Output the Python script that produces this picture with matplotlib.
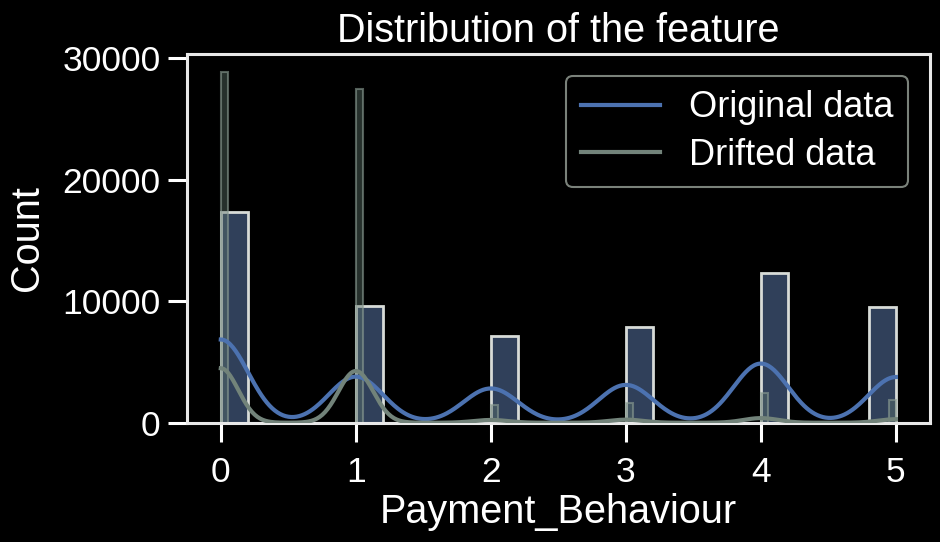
import numpy as np
import matplotlib
matplotlib.use("Agg")
import matplotlib.pyplot as plt

# Payment_Behaviour: counts per category
categories = [0, 1, 2, 3, 4, 5]
original_counts = [17340, 9610, 7150, 7890, 12330, 9530]
drifted_counts = [28900, 27440, 1480, 1640, 2460, 1890]

orig_bins = np.linspace(0, 5, 26)    # 25 bins, width 0.2
drift_bins = np.linspace(0, 5, 101)  # 100 bins, width 0.05

ORIG_COLOR = "#4c72b0"
DRIFT_COLOR = "#72837a"


def weighted_kde(values, weights, grid):
    # gaussian kde, scott bandwidth (same idea as seaborn/scipy)
    values = np.asarray(values, float)
    w = np.asarray(weights, float)
    n = w.sum()
    mean = np.sum(w * values) / n
    std = np.sqrt(np.sum(w * (values - mean) ** 2) / n)
    bw = std * n ** (-1 / 5)
    dens = np.zeros_like(grid)
    for v, wi in zip(values, w):
        dens += wi * np.exp(-0.5 * ((grid - v) / bw) ** 2)
    return dens / (n * bw * np.sqrt(2 * np.pi))


plt.style.use("dark_background")
plt.rcParams["font.family"] = ["Liberation Sans", "DejaVu Sans"]

fig, ax = plt.subplots(figsize=(9.4, 5.42), dpi=100)
fig.subplots_adjust(left=0.199, right=0.989, top=0.9, bottom=0.22)

ax.hist(categories, bins=orig_bins, weights=original_counts,
        facecolor="#30405a", edgecolor="#d8dcd8", linewidth=2, zorder=1)
ax.hist(categories, bins=drift_bins, weights=drifted_counts,
        facecolor=(0.36, 0.45, 0.42, 0.42), edgecolor=(0.55, 0.62, 0.58, 0.6),
        linewidth=1.5, zorder=2)

grid = np.linspace(0, 5, 500)
orig_scale = sum(original_counts) * (orig_bins[1] - orig_bins[0])
drift_scale = sum(drifted_counts) * (drift_bins[1] - drift_bins[0])
ax.plot(grid, weighted_kde(categories, original_counts, grid) * orig_scale,
        color=ORIG_COLOR, lw=3, label="Original data", zorder=3)
ax.plot(grid, weighted_kde(categories, drifted_counts, grid) * drift_scale,
        color=DRIFT_COLOR, lw=3, label="Drifted data", zorder=3)

ax.set_xticks(categories)
ax.set_yticks([0, 10000, 20000, 30000])
ax.tick_params(labelsize=25.5, length=14, width=2.2, pad=5)
ax.tick_params(axis="x", pad=10)
for s in ax.spines.values():
    s.set_linewidth(2.2)
    s.set_color("#e8e8e8")

ax.set_title("Distribution of the feature", fontsize=28.5, pad=9)
ax.set_xlabel("Payment_Behaviour", fontsize=28.5, labelpad=3)
ax.set_ylabel("Count", fontsize=28.5, labelpad=12)

leg = ax.legend(fontsize=26, loc="upper right", frameon=True,
                handlelength=2.2, borderpad=0.4, labelspacing=0.35,
                borderaxespad=0.6)
leg.get_frame().set_edgecolor("#9aa39a")
leg.get_frame().set_facecolor("black")
leg.get_frame().set_linewidth(1.5)
for line in leg.get_lines():
    line.set_linewidth(3)

fig.savefig("out.png", dpi=100, facecolor="black")
